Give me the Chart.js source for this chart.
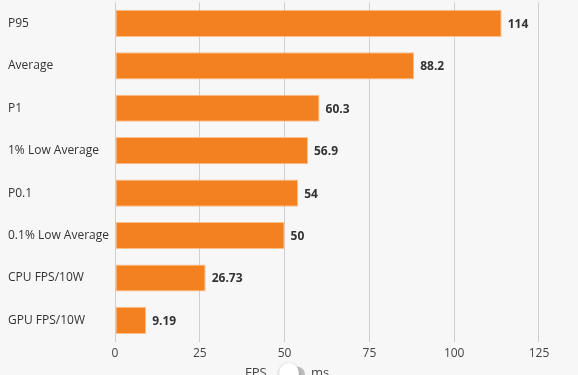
<!DOCTYPE html>
<html>
<head>
<meta charset="utf-8">
<script src="https://cdn.jsdelivr.net/npm/chart.js@4"></script>
<style>
  html, body { margin: 0; padding: 0; background: #f7f7f7; overflow: hidden; }
  #wrap { position: relative; width: 578px; height: 362px; }
  #fpsGraph { position: absolute; left: 0; top: -8px; }
  .toggle { position: absolute; top: 363px; left: 0; width: 578px; height: 20px;
            font-family: "Open Sans", sans-serif; font-size: 13px; color: #444; }
  .toggle .fps { position: absolute; left: 245px; top: 0; }
  .toggle .track { position: absolute; left: 283px; top: 4px; width: 22px; height: 14px;
                   border-radius: 7px; background: #bdbdbd; }
  .toggle .knob { position: absolute; left: 279px; top: 0px; width: 20px; height: 20px;
                  border-radius: 50%; background: #fff; box-shadow: 0 1px 3px rgba(0,0,0,0.35); }
  .toggle .ms { position: absolute; left: 311px; top: 0; }
</style>
</head>
<body>
<div id="wrap"><canvas id="fpsGraph"></canvas></div>
<div class="toggle"><span class="fps">FPS</span><span class="track"></span><span class="knob"></span><span class="ms">ms</span></div>
<script>
  // data
  var fpsLabels = ["P95", "Average", "P1", "1% Low Average", "P0.1", "0.1% Low Average", "CPU FPS/10W", "GPU FPS/10W"];
  var fpsValues = [114, 88.2, 60.3, 56.9, 54, 50, 26.73, 9.19];
  var fpsTicks = [0, 25, 50, 75, 100, 125];

  // draws the number at the end of each bar
  var valueLabels = {
    id: 'valueLabels',
    afterDatasetsDraw: function(chart) {
      var ctx = chart.ctx;
      var meta = chart.getDatasetMeta(0);
      ctx.save();
      ctx.font = 'bold 12px "Open Sans", sans-serif';
      ctx.fillStyle = '#333';
      ctx.textAlign = 'left';
      ctx.textBaseline = 'middle';
      meta.data.forEach(function(bar, i) {
        ctx.fillText(String(fpsValues[i]), bar.x + 6, bar.y + 1);
      });
      ctx.restore();
    }
  };

  var fpsConfig = {
    type: 'bar',
    data: {
      labels: fpsLabels,
      datasets: [{
        data: fpsValues,
        backgroundColor: "#f48120",
        borderColor: "rgba(250,185,130,0.9)",
        borderWidth: 1,
        borderSkipped: false,
        barPercentage: 0.8,
        categoryPercentage: 0.8
      }]
    },
    options: {
      indexAxis: 'y',
      responsive: false,
      animation: false,
      layout: { padding: { left: 8, top: 2, right: 0, bottom: 0 } },
      plugins: {
        legend: { display: false },
        tooltip: { enabled: false }
      },
      scales: {
        x: {
          min: 0,
          max: 136.5,
          afterBuildTicks: function(axis) {
            axis.ticks = fpsTicks.map(function(v) { return { value: v }; });
          },
          grid: { color: '#cfcfcf', drawTicks: false },
          border: { display: false },
          ticks: {
            padding: 5,
            color: '#444',
            font: { family: '"Open Sans", sans-serif', size: 12 }
          }
        },
        y: {
          afterFit: function(axis) { axis.width = 107; },
          grid: { display: false },
          border: { display: false },
          ticks: {
            crossAlign: 'far',
            color: '#333',
            font: { family: '"Open Sans", sans-serif', size: 12 }
          }
        }
      }
    },
    plugins: [valueLabels]
  };

  var fpsCtx = document.getElementById("fpsGraph");
  fpsCtx.width = 578;
  fpsCtx.height = 374;
  var fpsChart = new Chart(fpsCtx, fpsConfig);
</script>
</body>
</html>
